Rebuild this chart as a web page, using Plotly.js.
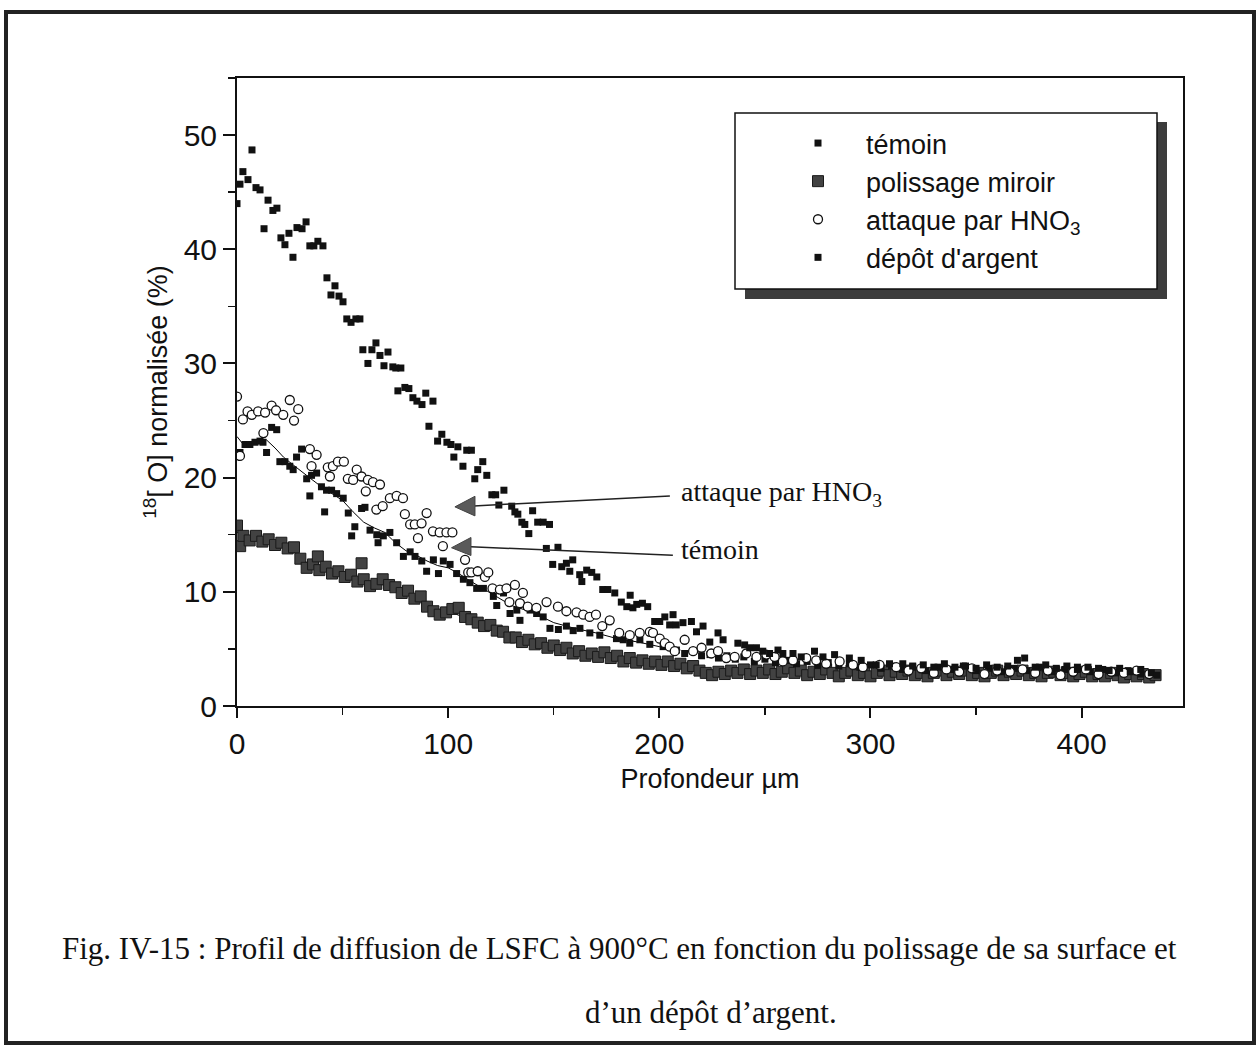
<!DOCTYPE html>
<html>
<head>
<meta charset="utf-8">
<script src="https://cdn.plot.ly/plotly-3.0.1.min.js"></script>
<style>html,body{margin:0;padding:0;background:#fff;}#chart{width:1257px;height:1055px;}</style>
</head>
<body>
<div id="chart"></div>
<script>
// ---------- DATA ----------
const seriesNames = ["témoin", "polissage miroir", "attaque par HNO<sub>3</sub>", "dépôt d'argent"];

const temoinX = [1.4,3.8,6.1,8.5,10.9,12.3,14.0,16.4,18.8,20.3,22.7,25.0,26.6,28.2,30.6,33.0,34.5,35.3,37.7,40.0,41.5,42.4,44.8,47.2,50.3,52.7,54.3,55.8,59.0,60.6,63.0,66.2,66.8,69.3,72.4,75.6,78.8,82.0,84.3,87.5,89.8,93.0,95.4,97.7,100.9,104.0,107.2,110.3,113.5,116.7,121.4,123.0,126.2,129.3,132.5,134.0,138.8,141.9,145.0,148.2,152.2,156.0,159.2,162.4,167.1,171.8,176.6,179.7,182.9,186.0,190.8,195.5,201.8,208.1,212,216,220,224,228,232,236,240,245,250,255,260,265,270,275,280,285,290,295,300,305,310,315,320,326,332,338,344,350,356,362,368,374,380,386,392,398,404,410,416,422,428];
const temoinY = [22.2,22.9,22.9,23.1,23.2,23.1,22.2,24.4,24.2,21.4,21.4,21.0,20.7,21.8,22.5,19.9,18.4,20.2,20.4,19.2,17.0,18.9,18.9,18.6,18.2,16.9,14.9,15.7,17.3,17.4,15.4,15.0,14.3,14.9,15.2,14.3,13.1,13.5,13.1,12.7,11.8,12.8,11.6,12.7,12.4,11.6,11.1,10.8,10.3,10.3,9.6,8.8,9.9,8.1,8.4,7.5,8.4,8.1,7.8,6.8,6.7,7.0,6.6,6.8,6.4,6.2,7.5,5.9,5.8,5.5,5.8,5.4,5.2,4.9,4.6,4.8,4.4,4.5,4.2,4.4,4.1,4.3,3.9,4.1,3.8,4.0,3.7,3.9,3.6,3.8,3.5,3.7,3.4,3.6,3.3,3.5,3.2,3.4,3.1,3.4,3.2,3.5,3.1,3.3,3.0,3.3,3.1,3.4,3.0,3.2,3.4,3.0,3.2,2.9,3.1,2.8];

// smoothed guide line drawn through the témoin points
const temoinLineX = [0,3,6,10,14,18,22,26,30,35,40,45,50,55,60,65,70,75,80,85,90,95,100,105,110,120,130,140,150,160,170,180,190,200,210];
const temoinLineY = [23.6,22.9,22.9,23.1,23.3,22.6,21.8,21.2,20.6,19.9,19.2,18.6,18.0,17.0,16.1,15.6,15.2,14.3,13.6,13.2,12.7,12.3,12.1,11.6,11.0,9.9,8.8,8.2,7.3,6.8,6.4,5.9,5.6,5.2,4.9];

const polissageX = [0,1.5,3,6,9,12,15,18,21,24,27,30,33,36,38.3,39,42,45,48,51,54,57,59,60,63,66,69,72,75,78,81,84,87,90,93,96,99,102,105,108,111,114,117,120,123,126,129,132,135,138,141,144,147,150,153,156,159,162,165,168,171,174,177,180,183,186,189,192,195,198,201,204,207,210,213,216,219,222,225,228,231,234,237,240,243,246,249,252,255,258,261,264,267,270,273,276,279,282,285,288,291,294,297,300,303,306,309,312,315,318,321,324,327,330,333,336,339,342,345,348,351,354,357,360,363,366,369,372,375,378,381,384,387,390,393,396,399,402,405,408,411,414,417,420,423,426,429,432,435];
const polissageY = [15.8,14.0,14.9,14.5,14.9,14.4,14.6,14.1,14.3,13.8,13.9,12.9,12.1,12.4,13.1,11.9,12.2,11.6,11.8,11.3,11.5,10.9,12.5,11.1,10.5,10.7,11.1,10.6,10.4,9.9,10.1,9.4,9.6,8.7,8.3,8.0,8.2,8.5,8.6,7.8,7.6,7.3,7.0,7.1,6.6,6.5,6.0,6.0,5.6,5.8,5.4,5.5,5.1,5.3,4.9,5.1,4.6,4.8,4.4,4.6,4.3,4.7,4.2,4.4,3.9,4.2,3.8,4.0,3.7,3.9,3.6,3.9,3.5,3.7,3.3,3.5,3.1,2.9,2.7,3.0,2.8,3.1,2.9,3.2,2.8,3.1,2.9,3.2,2.8,3.0,3.3,2.9,3.1,2.7,3.0,2.8,3.2,2.9,2.6,2.9,3.1,2.7,2.9,2.6,2.9,3.1,2.7,3.0,2.8,3.1,2.7,2.9,2.6,2.9,3.1,2.7,3.0,2.8,3.1,2.7,2.9,2.6,2.9,3.1,2.7,3.0,2.8,3.1,2.7,2.9,2.6,2.9,3.0,2.7,2.9,2.6,2.8,3.0,2.6,2.8,2.6,2.9,2.7,2.5,2.8,2.6,2.8,2.5,2.7];

const polissageLineX = [0,5,10,15,20,25,30,35,40,50,60,70,80,90,100,110,120,130,140,150,160,170,180,190,200,220,240,260,300,350,400,435];
const polissageLineY = [15.2,14.8,14.6,14.4,14.2,13.8,13.0,12.3,12.0,11.4,10.8,10.6,10.0,8.7,8.3,7.6,6.9,6.1,5.5,5.1,4.7,4.4,4.2,3.9,3.7,3.1,3.0,3.0,2.9,2.85,2.8,2.7];

const attaqueX = [0,1.4,2.8,5.0,7.0,10.0,12.5,13.3,16.4,18.5,21.9,25.0,27.0,29.0,34.5,35.3,37.7,43.0,44.0,45.4,47.8,50.6,52.5,55.0,56.7,59.0,61.0,62.0,64.4,66.0,67.7,69.0,72.4,75.6,78.6,79.5,82.0,84.2,85.7,87.4,89.8,92.8,96.0,97.5,99.2,102.0,108.0,109.5,111.0,114.0,117.4,119.0,121.0,124.5,127.6,129.0,131.6,134.0,135.4,137.7,141.8,146.6,152.0,156.0,160.8,164.0,167.0,170.0,173.0,176.5,181.0,186.0,190.7,195.5,197.0,200.2,202.6,204.9,207.3,212,216,220,224.6,227.8,231.7,235.7,241.2,246,250.7,254.6,258.5,263.3,269.6,274.3,279,285.4,291.7,296.4,304.3,312.2,318,324,330,336,342,348,354,360,366,372,378,384,390,396,402,408,414,420,426,432];
const attaqueY = [27.1,21.9,25.1,25.8,25.5,25.8,23.9,25.7,26.3,25.9,25.5,26.8,25.0,26.0,22.5,21.0,22.0,20.9,20.1,21.0,21.4,21.4,19.9,19.8,20.7,20.1,18.8,19.8,19.6,17.2,19.4,17.5,18.2,18.4,18.2,16.8,15.9,15.9,14.7,16.0,16.9,15.3,15.2,14.0,15.2,15.2,12.8,11.7,11.7,11.8,11.3,11.7,10.3,10.2,10.3,9.1,10.6,9.0,9.9,8.7,8.6,9.1,8.7,8.3,8.2,8.0,7.8,8.0,7.0,7.5,6.4,6.2,6.4,6.5,6.4,5.9,5.5,5.2,4.8,5.8,4.8,5.1,4.6,4.8,4.2,4.3,4.6,4.3,4.5,4.3,3.9,4.0,4.2,4.0,3.7,3.9,3.6,3.4,3.6,3.4,3.1,3.3,2.9,3.2,3.0,3.3,2.8,3.1,3.0,3.2,2.9,3.1,2.7,3.0,3.2,2.8,3.0,2.9,3.1,2.8];

const depotX = [0,1.4,2.8,5.2,7.1,9.0,10.9,12.8,14.7,17.0,18.9,20.8,22.7,24.6,26.5,28.4,30.8,32.7,34.5,36.4,38.3,40.7,42.6,44.5,46.4,48.3,50.2,52.0,54.0,56.3,58.2,59.6,62.0,63.9,65.8,67.7,69.6,71.5,73.8,75.2,76.2,77.6,79.5,81.4,83.3,85.2,87.6,89.4,90.9,92.8,95.0,97.0,99.4,101.3,102.7,104.6,107.0,108.8,111.0,112.6,114.0,116.4,118.3,120.7,122.5,124.0,126.4,130.1,131.6,133.0,134.9,136.3,138.2,140.0,142.4,145.0,146.5,148.0,149.5,152.0,153.8,156.0,157.6,159.0,162.3,163.3,165.6,168.0,170.4,173.2,175.6,178.9,182.0,184.6,186.2,187.5,189.3,192.0,194.5,197.8,200.2,202.6,204.9,206.5,208.0,211.2,215.2,217.6,220.7,223.9,227.8,230.2,237.2,240.4,242.8,246,249,252.2,256.2,258.5,263.3,267.2,273.5,277.5,283,290,295.6,302.7,309,315.3,320,325,330,335,340,345,350,355,360,365,369.6,373,378,383,388,393,398,403,408,413,418,423,428,433,435.6];
const depotY = [44.0,45.7,46.8,46.1,48.7,45.4,45.2,41.8,44.3,43.4,43.6,41.0,40.4,41.4,39.3,41.9,41.8,42.4,40.3,40.3,40.7,40.3,37.5,36.0,36.8,35.9,35.4,33.9,33.6,33.9,33.9,31.2,30.0,31.2,31.8,30.7,29.8,31.0,29.7,29.6,27.6,29.6,27.9,27.8,27.0,26.7,26.4,27.4,24.5,26.7,23.2,23.8,23.1,22.9,21.8,22.7,21.0,22.4,22.4,19.9,20.7,21.4,20.2,18.5,18.5,17.6,18.9,17.5,17.0,16.8,16.1,15.9,15.1,17.1,16.1,16.1,13.8,15.9,12.4,13.9,12.2,12.5,11.8,12.8,11.5,10.9,11.9,11.7,11.3,10.2,10.2,9.9,9.1,8.7,9.7,8.6,8.9,9.0,8.7,7.4,7.4,7.8,7.1,8.0,7.1,7.3,7.4,6.5,7.0,5.6,6.4,5.8,5.5,5.35,5.1,5.1,4.8,4.6,4.9,4.6,4.6,4.3,4.8,4.3,4.5,4.2,4.0,3.6,3.7,3.7,3.5,3.6,3.4,3.7,3.4,3.5,3.3,3.6,3.4,3.5,4.0,4.2,3.4,3.6,3.3,3.5,3.2,3.4,3.3,3.1,3.3,3.0,3.2,2.9,2.7];

// axis ticks
const xTickVals = [0,100,200,300,400];
const yTickVals = [0,10,20,30,40,50];

// ---------- LAYOUT HELPERS (pixel -> paper for decorations) ----------
const W = 1257, H = 1055;
const PL = 237, PR = 1183, PT = 78, PB = 706;
const px = p => (p - PL) / (PR - PL);
const py = p => (PB - p) / (PB - PT);

const traces = [
  {x: polissageLineX, y: polissageLineY, mode: 'lines', line: {color: '#000', width: 1}, showlegend: false, hoverinfo: 'skip'},
  {x: polissageX, y: polissageY, mode: 'markers', name: seriesNames[1], legendrank: 2,
   marker: {symbol: 'square', size: 11, color: '#424242', line: {color: '#1a1a1a', width: 1}}},
  {x: temoinLineX, y: temoinLineY, mode: 'lines', line: {color: '#000', width: 1}, showlegend: false, hoverinfo: 'skip'},
  {x: temoinX, y: temoinY, mode: 'markers', name: seriesNames[0], legendrank: 1,
   marker: {symbol: 'square', size: 7, color: '#111'}},
  {x: attaqueX, y: attaqueY, mode: 'markers', name: seriesNames[2], legendrank: 3,
   marker: {symbol: 'circle', size: 9, color: '#fff', line: {color: '#111', width: 1.3}}},
  {x: depotX, y: depotY, mode: 'markers', name: seriesNames[3], legendrank: 4,
   marker: {symbol: 'square', size: 7, color: '#111'}}
];

const serif = 'Liberation Serif, Times New Roman, serif';
const sans = 'Liberation Sans, Arial, sans-serif';

const shapes = [
  // outer figure frame
  {type: 'rect', xref: 'paper', yref: 'paper', x0: px(6), x1: px(1254), y0: py(1043), y1: py(12),
   line: {color: '#222', width: 4}, fillcolor: 'rgba(0,0,0,0)', layer: 'above'},
  // legend shadow and box
  {type: 'rect', xref: 'paper', yref: 'paper', x0: px(745), x1: px(1167), y0: py(299), y1: py(122),
   line: {width: 0}, fillcolor: '#3c3c3c', layer: 'above'},
  {type: 'rect', xref: 'paper', yref: 'paper', x0: px(735), x1: px(1157), y0: py(289), y1: py(113),
   line: {color: '#111', width: 1.5}, fillcolor: '#fff', layer: 'above'},
  // arrow lines
  {type: 'line', xref: 'x', yref: 'y', x0: 205.0, y0: 18.39, x1: 110.0, y1: 17.5, line: {color: '#222', width: 1.5}},
  {type: 'line', xref: 'x', yref: 'y', x0: 206.4, y0: 13.2, x1: 108.0, y1: 13.97, line: {color: '#222', width: 1.5}},
  // arrow heads
  {type: 'path', xref: 'x', yref: 'y', path: 'M 103.2 17.44 L 112.7 18.37 L 112.7 16.65 Z',
   fillcolor: '#5a5a5a', line: {color: '#444', width: 1}},
  {type: 'path', xref: 'x', yref: 'y', path: 'M 101.6 13.86 L 110.8 14.76 L 110.8 13.18 Z',
   fillcolor: '#5a5a5a', line: {color: '#444', width: 1}}
];

const annotations = [
  {xref: 'x', yref: 'y', x: 209.5, y: 18.6, xanchor: 'left', yanchor: 'middle', showarrow: false,
   text: 'attaque par HNO<sub>3</sub>', font: {family: serif, size: 28, color: '#111'}},
  {xref: 'x', yref: 'y', x: 209.5, y: 13.7, xanchor: 'left', yanchor: 'middle', showarrow: false,
   text: 'témoin', font: {family: serif, size: 28, color: '#111'}},
  {xref: 'paper', yref: 'paper', x: px(60), y: py(948), xanchor: 'left', yanchor: 'middle', showarrow: false,
   text: 'Fig. IV-15 : Profil de diffusion de LSFC à 900°C en fonction du polissage de sa surface et',
   font: {family: serif, size: 31, color: '#111'}},
  {xref: 'paper', yref: 'paper', x: px(711), y: py(1012), xanchor: 'center', yanchor: 'middle', showarrow: false,
   text: 'd’un dépôt d’argent.', font: {family: serif, size: 31, color: '#111'}}
];

const layout = {
  width: W, height: H,
  margin: {l: PL, r: W - PR, t: PT, b: H - PB, pad: 0},
  paper_bgcolor: '#fff', plot_bgcolor: '#fff',
  font: {family: sans, color: '#111'},
  showlegend: true,
  legend: {x: px(770), y: py(119), xanchor: 'left', yanchor: 'top',
    bgcolor: 'rgba(0,0,0,0)', borderwidth: 0, itemwidth: 86,
    font: {family: sans, size: 27, color: '#111'}, traceorder: 'normal'},
  xaxis: {
    range: [0, 448], showgrid: false, zeroline: false,
    showline: true, linecolor: '#111', linewidth: 2, mirror: true,
    ticks: 'outside', ticklen: 10, tickwidth: 2, tickcolor: '#111',
    tickvals: xTickVals, ticktext: xTickVals.map(String),
    tickfont: {family: sans, size: 30, color: '#111'},
    minor: {dtick: 50, ticks: 'outside', ticklen: 7, tickwidth: 1.5, tickcolor: '#111', showgrid: false},
    title: {text: 'Profondeur µm', font: {family: sans, size: 27, color: '#111'}, standoff: 10}
  },
  yaxis: {
    range: [0, 55], showgrid: false, zeroline: false,
    showline: true, linecolor: '#111', linewidth: 2, mirror: true,
    ticks: 'outside', ticklen: 12, tickwidth: 2, tickcolor: '#111',
    tickvals: yTickVals, ticktext: yTickVals.map(String),
    tickfont: {family: sans, size: 30, color: '#111'},
    minor: {dtick: 5, ticks: 'outside', ticklen: 7, tickwidth: 1.5, tickcolor: '#111', showgrid: false},
    title: {text: '<sup>18</sup>[ O] normalisée (%)', font: {family: sans, size: 27, color: '#111'}, standoff: 8}
  },
  shapes: shapes,
  annotations: annotations
};

Plotly.newPlot('chart', traces, layout, {staticPlot: true, displayModeBar: false});
</script>
</body>
</html>
